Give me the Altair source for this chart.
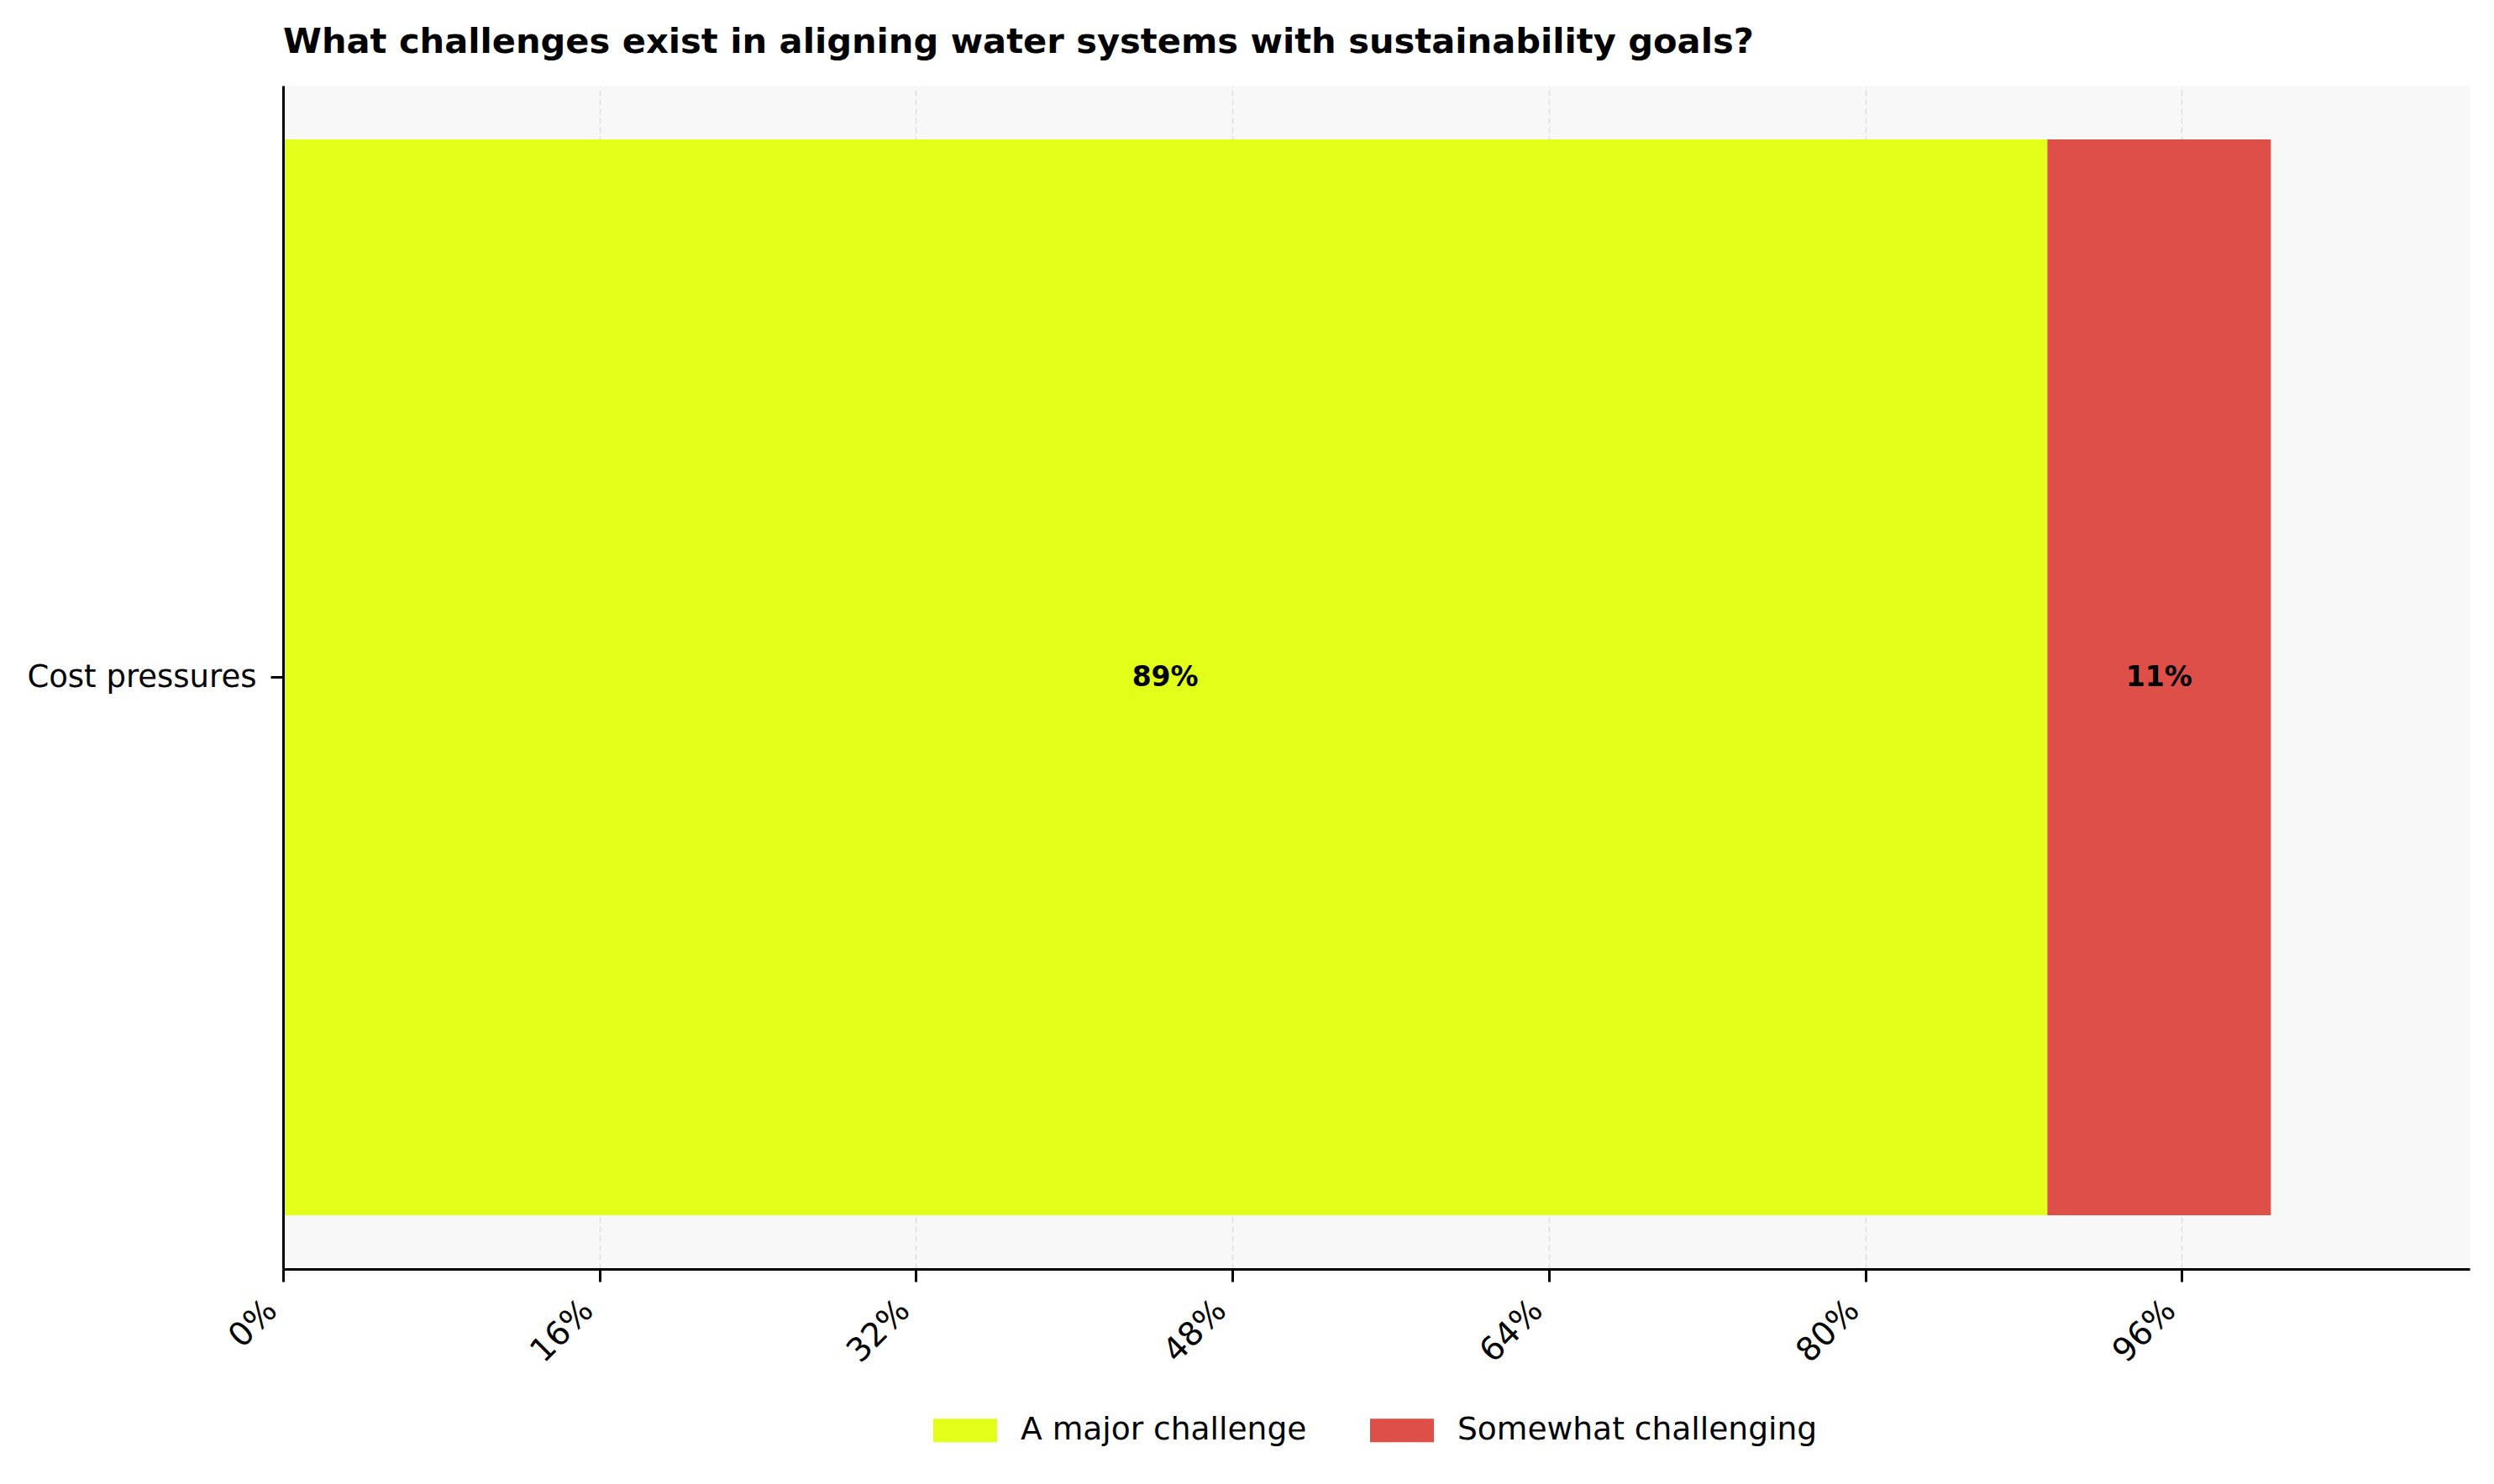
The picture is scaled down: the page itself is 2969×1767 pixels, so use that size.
import altair as alt
import pandas as pd

# ---- data ----
categories = ["Cost pressures", "Cost pressures"]
series = ["A major challenge", "Somewhat challenging"]
values = [89.2, 11.3]
labels = ["89%", "11%"]
stack_order = [0, 1]
colors = ["#e2ff1a", "#de4f48"]
tick_values = [0, 16, 32, 48, 64, 80, 96]
x_max = 110.55
title_text = "What challenges exist in aligning water systems with sustainability goals?"

df = pd.DataFrame({
    "category": categories,
    "series": series,
    "value": values,
    "label": labels,
    "order": stack_order,
})

FONT = "DejaVu Sans"

base = alt.Chart(df).transform_stack(
    stack="value",
    groupby=["category"],
    as_=["x0", "x1"],
    sort=[alt.SortField("order", order="ascending")],
).transform_calculate(mid="(datum.x0 + datum.x1) / 2")

y_enc = alt.Y(
    "category:N",
    title=None,
    scale=alt.Scale(paddingInner=0, paddingOuter=0.05),
    axis=alt.Axis(
        labelFont=FONT, labelFontSize=37, labelColor="black", labelLimit=1000,
        labelPadding=17, tickSize=15, tickWidth=3, tickColor="black",
        domainColor="black", domainWidth=3, grid=False, zindex=1,
    ),
)

bars = base.mark_bar().encode(
    y=y_enc,
    x=alt.X(
        "x0:Q",
        title=None,
        scale=alt.Scale(domain=[0, x_max], nice=False, zero=True),
        axis=alt.Axis(
            values=tick_values, labelExpr="datum.value + '%'",
            labelAngle=315, labelAlign="right", labelBaseline="bottom",
            labelFont=FONT, labelFontSize=39, labelColor="black", labelPadding=42,
            tickSize=15, tickWidth=3, tickColor="black",
            domainColor="black", domainWidth=3,
            grid=True, gridColor="#dedede", gridDash=[7, 4],
            gridWidth=1.5, zindex=0,
        ),
    ),
    x2="x1:Q",
    color=alt.Color(
        "series:N",
        scale=alt.Scale(domain=series, range=colors),
        legend=alt.Legend(
            title=None, orient="none", legendX=774, legendY=1563,
            direction="horizontal", labelFont=FONT, labelFontSize=37.6,
            labelColor="black", labelLimit=1000, labelOffset=28,
            columnPadding=75, padding=0,
            symbolType="M-1,-0.368L1,-0.368L1,0.368L-1,0.368Z",
            symbolSize=5776, symbolStrokeWidth=0, symbolOpacity=1,
        ),
    ),
)

text = base.mark_text(
    font=FONT, fontSize=33, fontWeight="bold", color="black",
    align="center", baseline="middle",
).encode(
    y=alt.Y("category:N"),
    x=alt.X("mid:Q"),
    text="label:N",
)

chart = alt.layer(bars, text).properties(
    width=2603,
    height=1409,
    title=alt.TitleParams(
        text=title_text, anchor="start", frame="group", font=FONT, fontSize=41.6,
        fontWeight="bold", color="black", offset=30,
    ),
    autosize=alt.AutoSizeParams(type="none"),
    padding={"left": 329, "top": 94, "right": 21, "bottom": 248},
).configure_view(fill="#f8f8f8", strokeOpacity=0)

chart.save("out.html", embed_options={"renderer": "svg", "actions": False})
